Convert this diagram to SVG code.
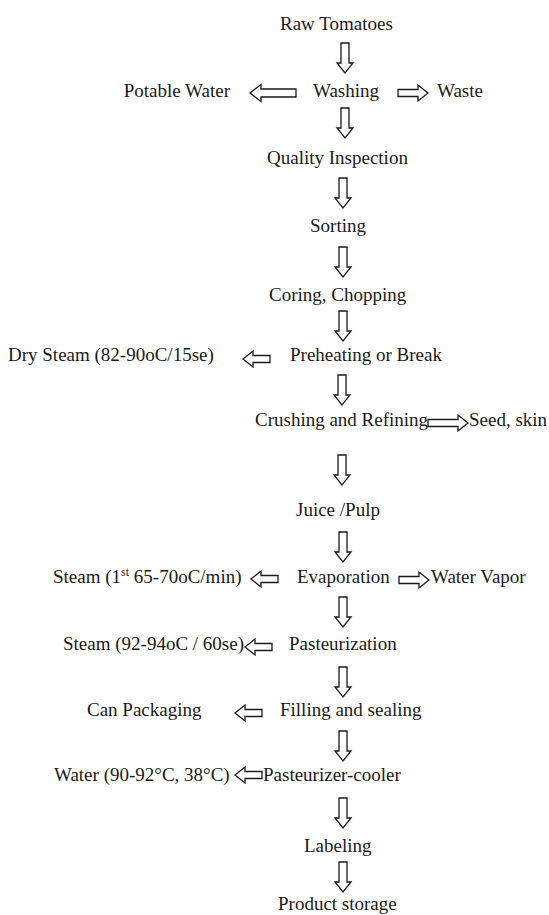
<svg xmlns="http://www.w3.org/2000/svg" width="549" height="915" viewBox="0 0 549 915">
<style>
  text { font-family: "Liberation Serif", "Times New Roman", serif; font-size: 19px; fill: #1a1a1a; }
  .arr { fill: #ffffff; stroke: #1a1a1a; stroke-width: 1.3; stroke-linejoin: miter; }
</style>
<defs>
  <path id="dn" d="M-4,0 H4 V20 H8 L0,30 L-8,20 H-4 Z"/>
  <path id="l46" d="M0,0 L11,-8.5 V-4 H46 V4 H11 V8.5 Z"/>
  <path id="l27" d="M0,0 L10,-8 V-3.5 H27 V3.5 H10 V8 Z"/>
  <path id="r30" d="M0,0 L-10,-8 V-3.5 H-30 V3.5 H-10 V8 Z"/>
  <path id="r40" d="M0,0 L-10,-8 V-3.5 H-40 V3.5 H-10 V8 Z"/>
</defs>
<rect width="549" height="915" fill="#ffffff"/>

<g id="connectors" class="arr">
  <use href="#dn" x="345" y="43"/>
  <use href="#l46" x="250" y="93"/>
  <use href="#r30" x="428" y="93"/>
  <use href="#dn" x="345" y="108"/>
  <use href="#dn" x="343" y="178"/>
  <use href="#dn" x="343" y="247"/>
  <use href="#dn" x="343" y="311"/>
  <use href="#l27" x="243" y="359"/>
  <use href="#dn" x="342" y="375"/>
  <use href="#r40" x="468" y="423"/>
  <use href="#dn" x="342" y="455"/>
  <use href="#dn" x="343" y="532"/>
  <use href="#l27" x="251" y="579"/>
  <use href="#r30" x="429" y="580"/>
  <use href="#dn" x="343" y="597"/>
  <use href="#l27" x="245" y="647"/>
  <use href="#dn" x="343" y="667"/>
  <use href="#l27" x="235" y="713"/>
  <use href="#dn" x="343" y="731"/>
  <use href="#l27" x="235" y="775"/>
  <use href="#dn" x="343" y="798"/>
  <use href="#dn" x="343" y="862"/>
</g>

<g id="raw-tomatoes"><text x="280" y="30">Raw Tomatoes</text></g>
<g id="potable-water"><text x="230" y="97" text-anchor="end">Potable Water</text></g>
<g id="washing"><text x="313" y="97">Washing</text></g>
<g id="waste"><text x="437" y="97">Waste</text></g>
<g id="quality-inspection"><text x="267" y="164">Quality Inspection</text></g>
<g id="sorting"><text x="310" y="232">Sorting</text></g>
<g id="coring-chopping"><text x="269" y="301">Coring, Chopping</text></g>
<g id="dry-steam"><text x="8" y="361">Dry Steam (82-90oC/15se)</text></g>
<g id="preheating"><text x="290" y="361">Preheating or Break</text></g>
<g id="crushing"><text x="255" y="426">Crushing and Refining</text></g>
<g id="seed-skin"><text x="469" y="426">Seed, skin</text></g>
<g id="juice-pulp"><text x="296" y="516">Juice /Pulp</text></g>
<g id="steam-1st"><text x="53" y="583">Steam (1<tspan font-size="12" dy="-7">st</tspan><tspan dy="7"> 65-70oC/min)</tspan></text></g>
<g id="evaporation"><text x="297" y="583">Evaporation</text></g>
<g id="water-vapor"><text x="431" y="583">Water Vapor</text></g>
<g id="steam-92"><text x="63" y="650">Steam (92-94oC / 60se)</text></g>
<g id="pasteurization"><text x="289" y="650">Pasteurization</text></g>
<g id="can-packaging"><text x="87" y="716">Can Packaging</text></g>
<g id="filling-sealing"><text x="280" y="716">Filling and sealing</text></g>
<g id="water-90"><text x="54" y="781">Water (90-92°C, 38°C)</text></g>
<g id="pasteurizer-cooler"><text x="263" y="781">Pasteurizer-cooler</text></g>
<g id="labeling"><text x="304" y="852">Labeling</text></g>
<g id="product-storage"><text x="278" y="910">Product storage</text></g>
</svg>
